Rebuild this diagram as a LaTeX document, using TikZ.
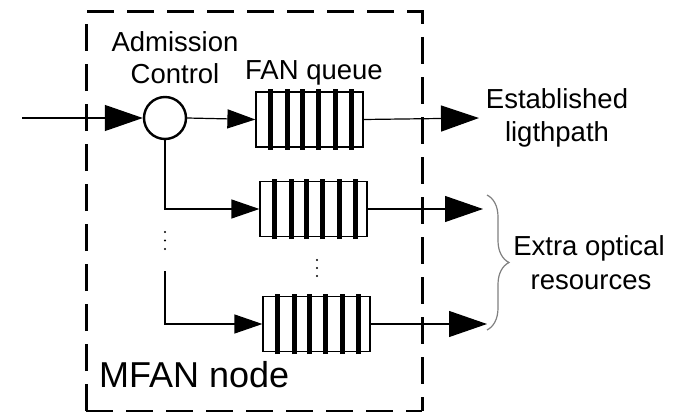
\documentclass[tikz,border=0pt]{standalone}
\usepackage{fontspec}
\setmainfont{Liberation Sans}
\usetikzlibrary{arrows.meta,calc,decorations.pathreplacing}
\begin{document}
\begin{tikzpicture}[x=1pt,y=-1pt,
  thinln/.style={line width=1.2pt},
  bigarrow/.style={thinln,-{Triangle[length=38pt,width=26pt]}},
  smallarrow/.style={thinln,-{Triangle[length=28pt,width=19pt]}},
  queue/.style={draw,line width=1.2pt,minimum width=107pt,minimum height=55pt,inner sep=0pt},
  lbl/.style={font=\fontsize{27.5}{33}\selectfont,inner sep=0pt,anchor=base},
  biglbl/.style={font=\fontsize{36}{42}\selectfont,inner sep=0pt,anchor=base west},
  nodebox/.style={line width=3pt,dash pattern=on 27pt off 13pt},
  bracestyle/.style={draw=gray,line width=1.2pt,decorate,decoration={brace,amplitude=22pt}}
]
\useasboundingbox (0,0) rectangle (680,412);
% dashed node box
\draw[nodebox] (86,411) -- (86,12) -- (422,12) -- (422,411);
\draw[nodebox] (86,411) -- (422,411);
% admission control
\node[circle,draw,line width=2.4pt,minimum size=42pt,inner sep=0pt] (ac) at (165,118) {};
\coordinate (in) at (22,118);
\draw[bigarrow] (in) -- (ac.west);
% queues
\node[queue] (q1) at (309.5,119.5) {};
\node[queue] (q2) at (313.5,209) {};
\node[queue] (q3) at (316.5,324) {};
\foreach \q in {q1,q2,q3}{
  \foreach \o in {15,32,47,63,80,96}{
    \draw[line width=4.2pt] ($(\q.south west)+(\o,2)$) -- ($(\q.north west)+(\o,-2)$);
  }
}
\draw[smallarrow] (ac.east) -- (q1.west);
\coordinate (b2) at (165,209);
\draw[smallarrow] (ac.south) -- (b2) -- (q2.west);
\coordinate (b3) at (165,271);
\coordinate (b3c) at (165,324);
\draw[smallarrow] (b3) -- (b3c) -- (q3.west);
% dots
\foreach \y in {232,240.5,249} \fill (165,\y) circle (1.1pt);
\foreach \y in {260,268,276} \fill (317,\y) circle (1.1pt);
% outputs
\coordinate (o1) at (479,118);
\coordinate (o2) at (483,209);
\coordinate (o3) at (487,324);
\draw[bigarrow] (q1.east) -- (o1);
\draw[bigarrow] (q2.east) -- (o2);
\draw[bigarrow] (q3.east) -- (o3);
% brace
\coordinate (bt) at (487,195);
\coordinate (bb) at (487,330);
\draw[bracestyle] (bt) -- (bb);
% labels
\node[lbl] (adm1) at (175,52) {Admission};
\node[lbl] (adm2) at (175,84) {Control};
\node[lbl,anchor=base west] (fanq) at (245,79) {FAN queue};
\node[lbl] (est1) at (557,108) {Established};
\node[lbl] (est2) at (557,141) {ligthpath};
\node[lbl] (ext1) at (589,255) {Extra optical};
\node[lbl] (ext2) at (591,289) {resources};
\node[biglbl] (mfan) at (99,387) {MFAN node};
\end{tikzpicture}
\end{document}
